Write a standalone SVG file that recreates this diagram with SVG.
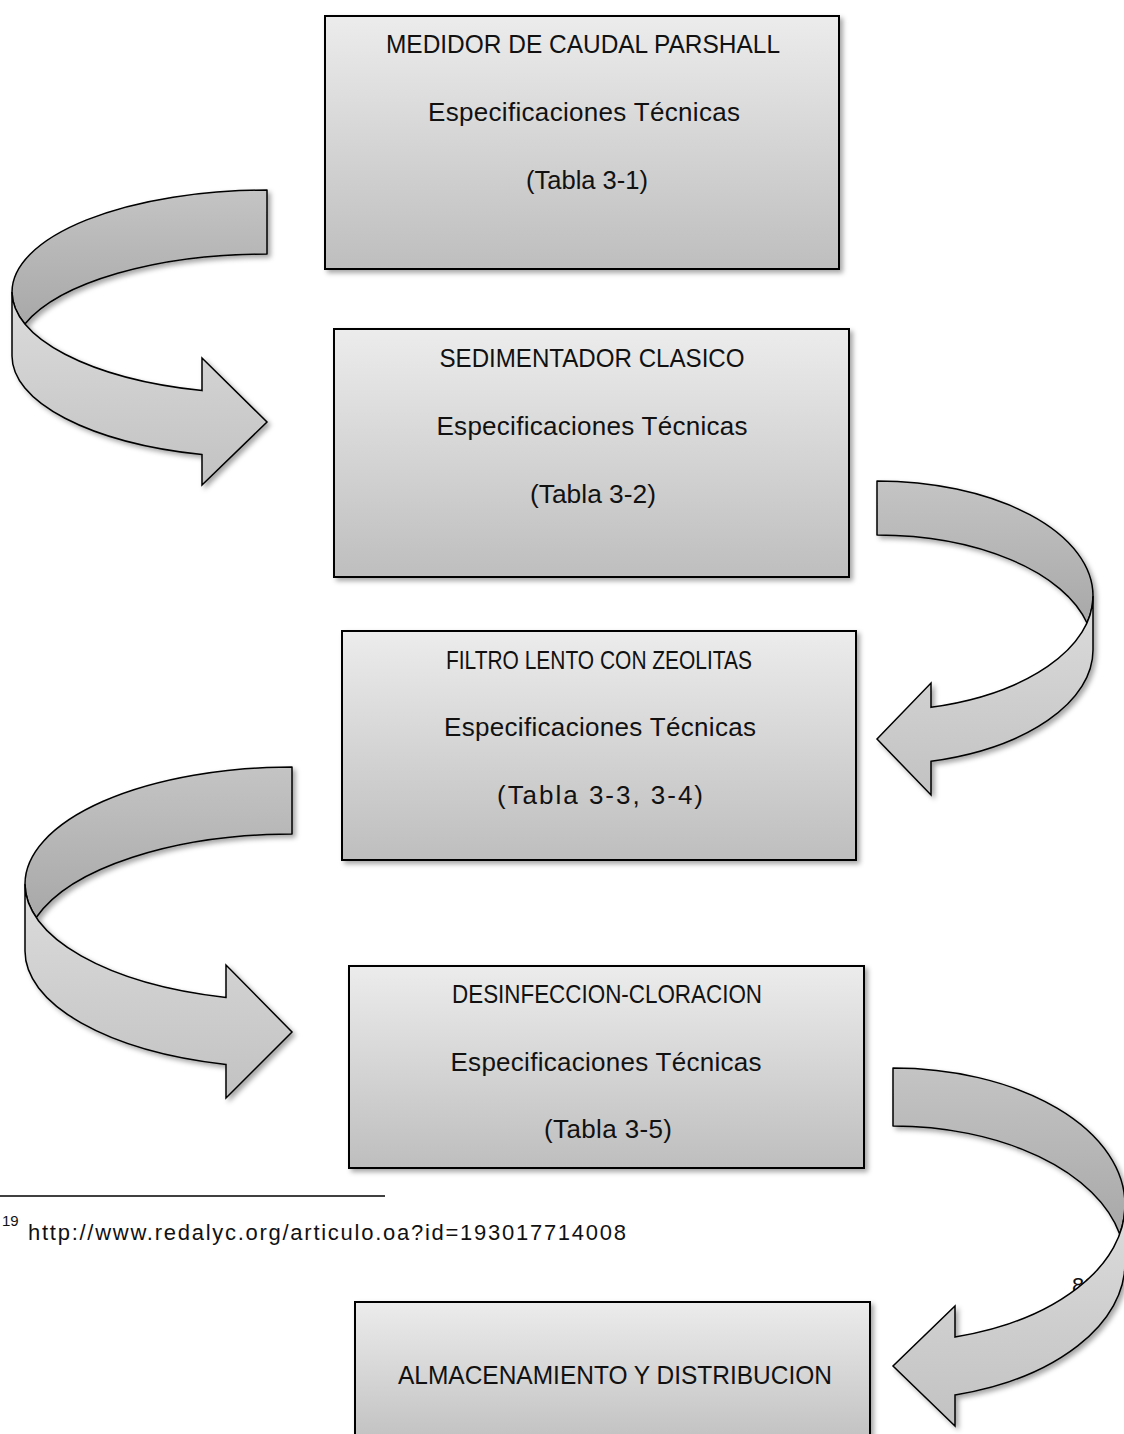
<svg xmlns="http://www.w3.org/2000/svg" width="1124" height="1434" viewBox="0 0 1124 1434">
<defs>
  <linearGradient id="boxGrad" x1="0" y1="0" x2="0" y2="1">
    <stop offset="0" stop-color="#ececec"/>
    <stop offset="1" stop-color="#bebebe"/>
  </linearGradient>
  <linearGradient id="darkGrad" x1="0" y1="0" x2="0" y2="1">
    <stop offset="0" stop-color="#c4c4c4"/>
    <stop offset="1" stop-color="#a8a8a8"/>
  </linearGradient>
  <linearGradient id="lightGrad" x1="0" y1="0" x2="0" y2="1">
    <stop offset="0" stop-color="#dcdcdc"/>
    <stop offset="1" stop-color="#c2c2c2"/>
  </linearGradient>
  <filter id="shadow" x="-10%" y="-10%" width="125%" height="125%">
    <feDropShadow dx="3" dy="3" stdDeviation="2.5" flood-color="#000" flood-opacity="0.35"/>
  </filter>
</defs>
<style>
  .box { fill: url(#boxGrad); stroke: #000; stroke-width: 2; filter: url(#shadow); }
  .lbl { font-family: "Liberation Sans", Arial, sans-serif; font-size: 26px; fill: #111; text-anchor: middle; }
  .dark { fill: url(#darkGrad); stroke: #000; stroke-width: 1.5; stroke-linejoin: round; }
  .light { fill: url(#lightGrad); stroke: #000; stroke-width: 1.5; stroke-linejoin: miter; }
  .arrow { filter: url(#shadow); }
  .foot { font-family: "Liberation Sans", Arial, sans-serif; fill: #111; }
</style>
<rect width="1124" height="1434" fill="#fff"/>

<g id="node-medidor">
  <rect class="box" x="325" y="16" width="514" height="253"/>
  <text class="lbl" x="583" y="53" textLength="394" lengthAdjust="spacingAndGlyphs">MEDIDOR DE CAUDAL PARSHALL</text>
  <text class="lbl" x="584" y="121" textLength="312" lengthAdjust="spacing">Especificaciones Técnicas</text>
  <text class="lbl" x="587" y="189" textLength="122" lengthAdjust="spacingAndGlyphs">(Tabla 3-1)</text>
</g>
<g id="node-sedimentador">
  <rect class="box" x="334" y="329" width="515" height="248"/>
  <text class="lbl" x="592" y="367" textLength="305" lengthAdjust="spacingAndGlyphs">SEDIMENTADOR CLASICO</text>
  <text class="lbl" x="592" y="435" textLength="311" lengthAdjust="spacing">Especificaciones Técnicas</text>
  <text class="lbl" x="593" y="503" textLength="126" lengthAdjust="spacingAndGlyphs">(Tabla 3-2)</text>
</g>
<g id="node-filtro">
  <rect class="box" x="342" y="631" width="514" height="229"/>
  <text class="lbl" x="599" y="669" textLength="306" lengthAdjust="spacingAndGlyphs">FILTRO LENTO CON ZEOLITAS</text>
  <text class="lbl" x="600" y="736" textLength="312" lengthAdjust="spacing">Especificaciones Técnicas</text>
  <text class="lbl" x="600" y="804" textLength="206" lengthAdjust="spacing">(Tabla 3-3, 3-4)</text>
</g>
<g id="node-desinfeccion">
  <rect class="box" x="349" y="966" width="515" height="202"/>
  <text class="lbl" x="607" y="1003" textLength="310" lengthAdjust="spacingAndGlyphs">DESINFECCION-CLORACION</text>
  <text class="lbl" x="606" y="1071" textLength="311" lengthAdjust="spacing">Especificaciones Técnicas</text>
  <text class="lbl" x="608" y="1138" textLength="128" lengthAdjust="spacing">(Tabla 3-5)</text>
</g>
<g id="node-almacenamiento">
  <rect class="box" x="355" y="1302" width="515" height="150"/>
  <text class="lbl" x="615" y="1384" textLength="434" lengthAdjust="spacingAndGlyphs">ALMACENAMIENTO Y DISTRIBUCION</text>
</g>

<g id="footnote">
  <line x1="0" y1="1196" x2="385" y2="1196" stroke="#000" stroke-width="1.5"/>
  <text class="foot" x="2" y="1226" font-size="15">19</text>
  <text class="foot" x="28" y="1240" font-size="22" textLength="598" lengthAdjust="spacing">http://www.redalyc.org/articulo.oa?id=193017714008</text>
</g>
<text class="foot" x="1072" y="1293" font-size="22">89</text>

<g id="connectors">
  <g id="arrow-1" class="arrow">
    <path class="dark" d="M267,190 A255,102 0 0 0 12,292 A255,102 0 0 0 24.9,324 A255,102 0 0 1 267,254 Z"/>
    <path class="light" d="M12,292 L12,356 A255,102 0 0 0 202,454.6 L202,485 L267,422 L202,358 L202,390.6 A255,102 0 0 1 12,292 Z"/>
  </g>
  <g id="arrow-2" class="arrow">
    <path class="dark" d="M877,481 A216,115 0 0 1 1093,596 A216,115 0 0 1 1087,623 A216,115 0 0 0 877,535 Z"/>
    <path class="light" d="M1093,596 L1093,650 A216,115 0 0 1 931,761.3 L931,795 L877,739 L931,683 L931,707.3 A216,115 0 0 0 1093,596 Z"/>
  </g>
  <g id="arrow-3" class="arrow">
    <path class="dark" d="M292,767 A267,117 0 0 0 25,884 A267,117 0 0 0 36.2,917.5 A267,117 0 0 1 292,834 Z"/>
    <path class="light" d="M25,884 L25,951 A267,117 0 0 0 226,1064.4 L226,1098 L292,1032 L226,965 L226,997.4 A267,117 0 0 1 25,884 Z"/>
  </g>
  <g id="arrow-4" class="arrow">
    <path class="dark" d="M893,1068 A232,137 0 0 1 1125,1205 A232,137 0 0 1 1119.7,1234 A232,137 0 0 0 893,1126 Z"/>
    <path class="light" d="M1125,1205 L1125,1263 A232,137 0 0 1 955,1395 L955,1426 L893,1366 L955,1306 L955,1337 A232,137 0 0 0 1125,1205 Z"/>
  </g>
</g>
</svg>
